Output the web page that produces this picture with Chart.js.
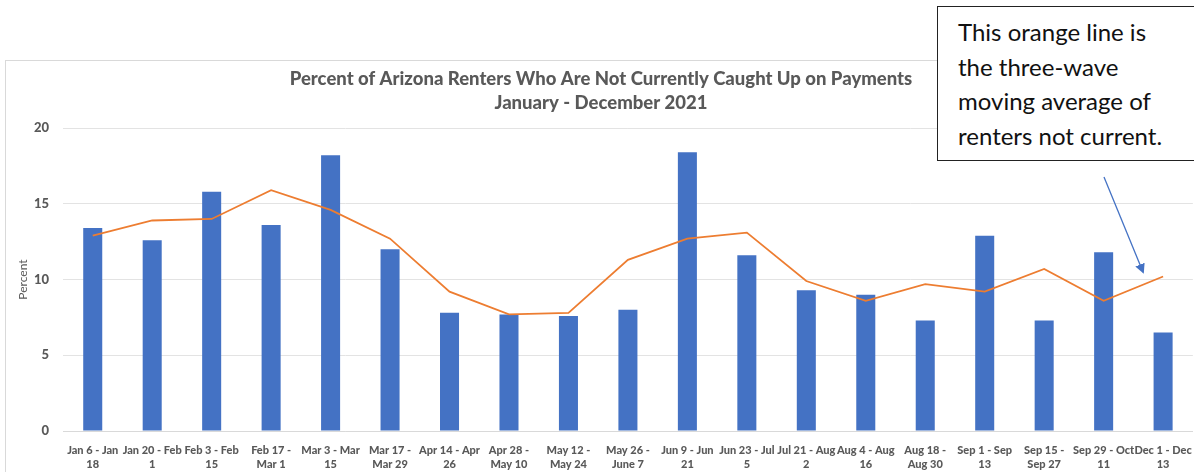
<!DOCTYPE html>
<html>
<head>
<meta charset="utf-8">
<script src="https://cdn.jsdelivr.net/npm/chart.js@4/dist/chart.umd.min.js"></script>
<style>
  html, body { margin: 0; padding: 0; background: #fff; overflow: hidden; width: 1194px; height: 472px; }
  #frame { position: absolute; left: 5px; top: 60px; width: 1200px; height: 420px; border: 1px solid #d9d9d9; box-sizing: border-box; }
  #note { position: absolute; left: 937px; top: 6px; width: 280px; height: 155px; border: 1px solid #222; background: #fff;
          box-sizing: border-box; padding: 8px 0 0 20px; font-family: Lato, "Open Sans", sans-serif; font-size: 24px; line-height: 34.7px; color: #111; }
  #arrow { position: absolute; left: 0; top: 0; }
</style>
</head>
<body>
<div id="frame"><canvas id="rentChart"></canvas></div>
<div id="note">This orange line is<br>the three-wave<br>moving average of<br>renters not current.</div>
<svg id="arrow" width="1194" height="472">
  <defs>
    <marker id="head" markerWidth="10" markerHeight="10" refX="8" refY="5" orient="auto" markerUnits="userSpaceOnUse">
      <path d="M0,0 L10,5 L0,10 z" fill="#4472C4"/>
    </marker>
  </defs>
  <line x1="1104" y1="177" x2="1143" y2="272" stroke="#4472C4" stroke-width="1.3" marker-end="url(#head)"/>
</svg>
<script>
// данные
const weeks = [
  ['Jan 6 - Jan', '18'], ['Jan 20 - Feb', '1'], ['Feb 3 - Feb', '15'], ['Feb 17 -', 'Mar 1'],
  ['Mar 3 - Mar', '15'], ['Mar 17 -', 'Mar 29'], ['Apr 14 - Apr', '26'], ['Apr 28 -', 'May 10'],
  ['May 12 -', 'May 24'], ['May 26 -', 'June 7'], ['Jun 9 - Jun', '21'], ['Jun 23 - Jul', '5'],
  ['Jul 21 - Aug', '2'], ['Aug 4 - Aug', '16'], ['Aug 18 -', 'Aug 30'], ['Sep 1 - Sep', '13'],
  ['Sep 15 -', 'Sep 27'], ['Sep 29 - Oct', '11'], ['Dec 1 - Dec', '13']
];
const notCurrent = [13.4, 12.6, 15.8, 13.6, 18.2, 12.0, 7.8, 7.7, 7.6, 8.0, 18.4, 11.6, 9.3, 9.0, 7.3, 12.9, 7.3, 11.8, 6.5];
const movingAvg = [12.9, 13.9, 14.0, 15.9, 14.6, 12.7, 9.2, 7.7, 7.8, 11.3, 12.7, 13.1, 9.9, 8.6, 9.7, 9.2, 10.7, 8.6, 10.2];
const yTicks = [0, 5, 10, 15, 20];

const grey = '#595959';
const fam = 'Lato, "Open Sans", sans-serif';

const ctx = document.getElementById('rentChart').getContext('2d');
const rentChart = new Chart(ctx, {
    data: {
        labels: weeks,
        datasets: [
            {
                type: 'line',
                label: 'Three-wave moving average',
                data: movingAvg,
                borderColor: '#ED7D31',
                borderWidth: 1.8,
                pointRadius: 0,
                tension: 0,
                fill: false
            },
            {
                type: 'bar',
                label: 'Not current',
                data: notCurrent,
                backgroundColor: '#4472C4',
                categoryPercentage: 1,
                barPercentage: 0.32
            }
        ]
    },
    options: {
        responsive: true,
        maintainAspectRatio: false,
        animation: false,
        layout: { padding: { left: 0, right: 8, top: 0, bottom: 0 } },
        plugins: {
            legend: { display: false },
            tooltip: { enabled: false },
            title: {
                display: true,
                text: ['Percent of Arizona Renters Who Are Not Currently Caught Up on Payments', 'January - December 2021'],
                color: grey,
                font: { family: fam, size: 18.5, weight: 900, lineHeight: 1.3 },
                padding: { top: 6, bottom: 13 }
            }
        },
        scales: {
            x: {
                grid: { display: false, drawTicks: false },
                border: { color: '#d9d9d9' },
                ticks: {
                    color: grey,
                    maxRotation: 0,
                    autoSkip: false,
                    padding: 12,
                    font: { family: fam, size: 11, weight: 900, lineHeight: 1.3 }
                },
                afterFit: (scale) => { scale.height = 48; }
            },
            y: {
                min: 0,
                max: 20,
                afterBuildTicks: (scale) => { scale.ticks = yTicks.map(v => ({ value: v })); },
                grid: { color: '#e3e3e3', drawTicks: false },
                border: { display: false },
                ticks: {
                    color: grey,
                    padding: 14,
                    font: { family: fam, size: 13, weight: 900 }
                },
                title: {
                    display: true,
                    text: 'Percent',
                    color: grey,
                    padding: { top: 10, bottom: 0 },
                    font: { family: fam, size: 12 }
                },
                afterFit: (scale) => { scale.width = 57; }
            }
        }
    }
});
</script>
</body>
</html>
